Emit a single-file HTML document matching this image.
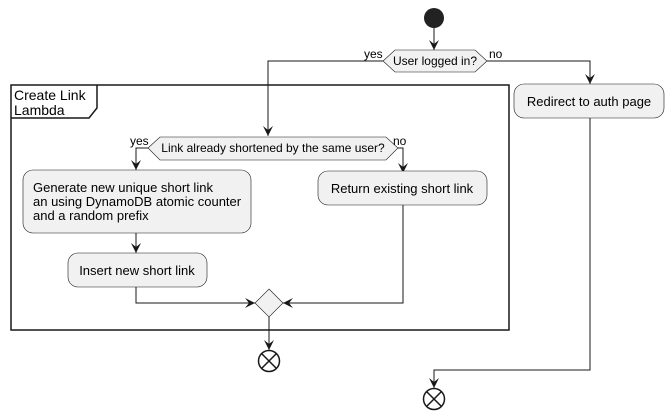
<!DOCTYPE html>
<html><head><meta charset="utf-8"><style>
html,body{margin:0;padding:0;background:#fff;width:671px;height:419px;overflow:hidden}
text{font-family:"Liberation Sans",sans-serif;font-size:13px;fill:#000}
.c{text-anchor:middle}
.s{font-size:12px}
</style></head><body>
<svg width="671" height="419" viewBox="0 0 671 419" xmlns="http://www.w3.org/2000/svg">
<defs><marker id="a" viewBox="0 0 10 10" refX="10" refY="5" markerWidth="10" markerHeight="10" markerUnits="userSpaceOnUse" orient="auto"><path d="M0,0 L10,5 L0,10 L4,5 Z" fill="#181818"/></marker></defs>
<g stroke="#181818" stroke-width="1" fill="none">
<rect x="11" y="85" width="498" height="245" stroke-width="1.5"/>
<path d="M11,118 L89,118 L97,108 L97,85" stroke-width="1.5"/>
<line x1="434" y1="28" x2="434" y2="50" marker-end="url(#a)"/>
<path d="M383,61 L268,61 L268,136" marker-end="url(#a)"/>
<path d="M487,61 L590,61 L590,84" marker-end="url(#a)"/>
<path d="M590,118 L590,370 L434,370 L434,388" marker-end="url(#a)"/>
<path d="M148,148 L136,148 L136,170" marker-end="url(#a)"/>
<path d="M398,148 L403,148 L403,173" marker-end="url(#a)"/>
<line x1="136" y1="233" x2="136" y2="253" marker-end="url(#a)"/>
<path d="M136,287 L136,303 L255,303" marker-end="url(#a)"/>
<path d="M403,204 L403,303 L283,303" marker-end="url(#a)"/>
<line x1="269" y1="317" x2="269" y2="350" marker-end="url(#a)"/>
</g>
<circle cx="434" cy="18" r="10" fill="#222"/>
<polygon points="383,61 395,50 475,50 487,61 475,72 395,72" fill="#f1f1f1" stroke="#181818" stroke-width="0.6"/>
<text class="c s" x="435" y="65">User logged in?</text>
<text class="s" x="364" y="58">yes</text>
<text class="s" x="489" y="58">no</text>
<rect x="514" y="84" width="150" height="34" rx="10" fill="#f1f1f1" stroke="#181818" stroke-width="0.6"/>
<text class="c" x="589" y="106">Redirect to auth page</text>
<text x="14" y="100" style="font-size:14px">Create Link</text>
<text x="14" y="115" style="font-size:14px">Lambda</text>
<polygon points="148,148 160,137 386,137 398,148 386,160 160,160" fill="#f1f1f1" stroke="#181818" stroke-width="0.6"/>
<text class="c s" x="273" y="152">Link already shortened by the same user?</text>
<text class="s" x="130" y="145">yes</text>
<text class="s" x="393" y="145">no</text>
<rect x="23" y="170" width="228" height="63" rx="10" fill="#f1f1f1" stroke="#181818" stroke-width="0.6"/>
<text x="33" y="192">Generate new unique short link</text>
<text x="33" y="206">an using DynamoDB atomic counter</text>
<text x="33" y="220">and a random prefix</text>
<rect x="318" y="171" width="169" height="34" rx="10" fill="#f1f1f1" stroke="#181818" stroke-width="0.6"/>
<text class="c" x="402" y="193">Return existing short link</text>
<rect x="68" y="253" width="139" height="34" rx="10" fill="#f1f1f1" stroke="#181818" stroke-width="0.6"/>
<text class="c" x="137" y="275">Insert new short link</text>
<polygon points="269,289 283,303 269,317 255,303" fill="#f1f1f1" stroke="#181818" stroke-width="0.6"/>
<g stroke="#181818" stroke-width="1.5" fill="none">
<circle cx="269" cy="361" r="10.5"/>
<path d="M262,354 L276,368 M276,354 L262,368"/>
<circle cx="434" cy="399" r="10.5"/>
<path d="M427,392 L441,406 M441,392 L427,406"/>
</g>
</svg>
</body></html>
